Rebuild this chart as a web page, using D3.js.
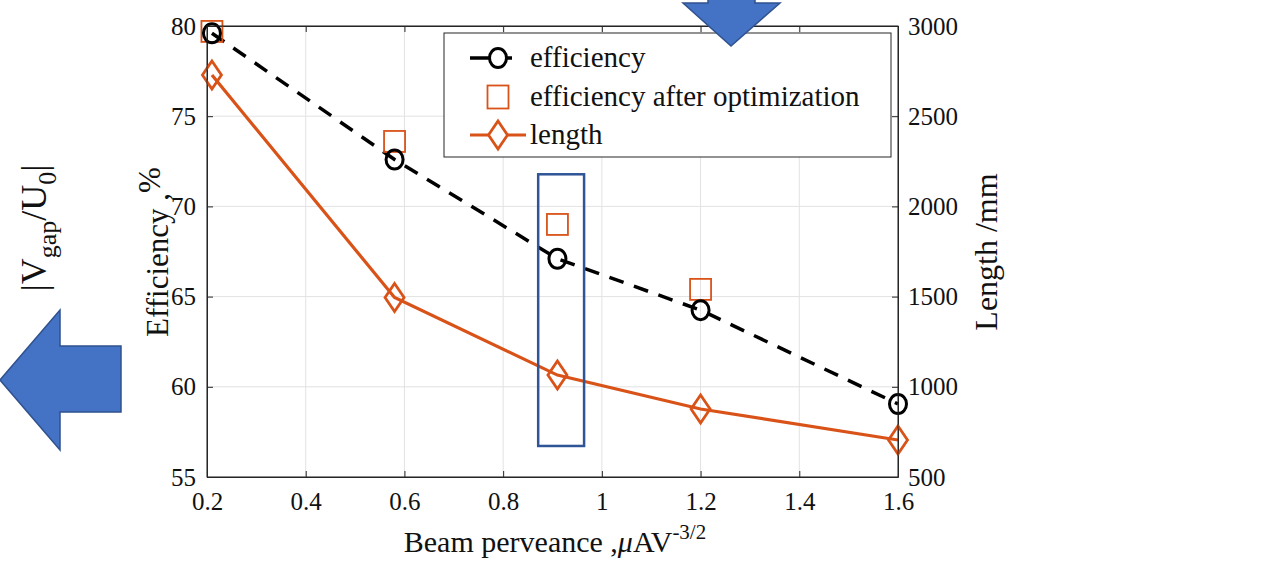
<!DOCTYPE html>
<html>
<head>
<meta charset="utf-8">
<script src="https://cdn.jsdelivr.net/npm/d3@7"></script>
<style>
  body { margin: 0; background: #fff; }
  svg { font-family: "Liberation Serif", "Times New Roman", serif; }
  .grid line { stroke: #e2e2e2; stroke-width: 1; }
  .axis path, .axis line { stroke: #262626; }
  .axis text { fill: #111; font-size: 25px; }
</style>
</head>
<body>
<svg width="1281" height="563"></svg>
<script>
// values
const perveance = [0.21, 0.58, 0.91, 1.2, 1.6];
const efficiency = [79.6, 72.6, 67.1, 64.25, 59.05];
const optPerveance = [0.21, 0.58, 0.91, 1.2];
const efficiencyOpt = [79.7, 73.6, 69.0, 65.4];
const lengthMm = [2728, 1495, 1065, 877, 705];

const xTicks = [0.2, 0.4, 0.6, 0.8, 1, 1.2, 1.4, 1.6];
const effTicks = [55, 60, 65, 70, 75, 80];
const lenTicks = [500, 1000, 1500, 2000, 2500, 3000];

// highlighted box around the 0.91 point: [x0, x1, eff0, eff1]
const highlight = [0.871, 0.964, 56.72, 71.78];

const orange = "#D95319";
const serif = "Liberation Serif, Times New Roman, serif";

const svg = d3.select("svg");
const mLeft = 207, mRight = 898, mTop = 26, mBottom = 477;

const x = d3.scaleLinear().domain([0.2, 1.6]).range([mLeft, mRight]);
const yEff = d3.scaleLinear().domain([55, 80]).range([mBottom, mTop]);
const yLen = d3.scaleLinear().domain([500, 3000]).range([mBottom, mTop]);

// blue arrows (drawing annotations outside the plot)
const arrowFill = "#4472C4", arrowStroke = "#2F528F";
svg.append("polygon")
  .attr("points", "0,380 60,310 60,346 121,346 121,412 60,412 60,450")
  .attr("fill", arrowFill).attr("stroke", arrowStroke).attr("stroke-width", 1.5);

// grid
const grid = svg.append("g").attr("class", "grid");
grid.selectAll(".gx").data(xTicks).enter().append("line")
  .attr("x1", d => x(d)).attr("x2", d => x(d))
  .attr("y1", mTop).attr("y2", mBottom);
grid.selectAll(".gy").data(effTicks).enter().append("line")
  .attr("x1", mLeft).attr("x2", mRight)
  .attr("y1", d => yEff(d)).attr("y2", d => yEff(d));

// axes, ticks inward like matlab
const serifFont = g => g.attr("font-family", serif);
svg.append("g").attr("class", "axis")
  .attr("transform", `translate(0,${mBottom})`)
  .call(d3.axisBottom(x).tickValues(xTicks).tickSizeInner(-6).tickSizeOuter(0).tickPadding(15)
    .tickFormat(d3.format("")))
  .call(serifFont);
svg.append("g").attr("class", "axis")
  .attr("transform", `translate(0,${mTop})`)
  .call(d3.axisTop(x).tickValues(xTicks).tickSizeInner(-6).tickSizeOuter(0).tickFormat(""));
svg.append("g").attr("class", "axis")
  .attr("transform", `translate(${mLeft},0)`)
  .call(d3.axisLeft(yEff).tickValues(effTicks).tickSizeInner(-6).tickSizeOuter(0).tickPadding(11))
  .call(serifFont);
svg.append("g").attr("class", "axis")
  .attr("transform", `translate(${mRight},0)`)
  .call(d3.axisRight(yLen).tickValues(lenTicks).tickSizeInner(-6).tickSizeOuter(0).tickPadding(10)
    .tickFormat(d3.format("d")))
  .call(serifFont);

// efficiency, dashed black
svg.append("path")
  .datum(perveance.map((p, i) => [p, efficiency[i]]))
  .attr("fill", "none").attr("stroke", "#000").attr("stroke-width", 3.5)
  .attr("stroke-dasharray", "15,11")
  .attr("d", d3.line().x(d => x(d[0])).y(d => yEff(d[1])));

// length, solid orange
svg.append("path")
  .datum(perveance.map((p, i) => [p, lengthMm[i]]))
  .attr("fill", "none").attr("stroke", orange).attr("stroke-width", 3.2)
  .attr("d", d3.line().x(d => x(d[0])).y(d => yLen(d[1])));

// markers
const diamond = (cx, cy) => `M${cx},${cy - 14}L${cx + 9.5},${cy}L${cx},${cy + 14}L${cx - 9.5},${cy}Z`;
svg.selectAll(".len").data(perveance).enter().append("path")
  .attr("d", (p, i) => diamond(x(p), yLen(lengthMm[i])))
  .attr("fill", "none").attr("stroke", orange).attr("stroke-width", 2.8);

svg.selectAll(".opt").data(optPerveance).enter().append("rect")
  .attr("x", p => x(p) - 10.5)
  .attr("y", (p, i) => yEff(efficiencyOpt[i]) - 10.5)
  .attr("width", 21).attr("height", 21)
  .attr("fill", "none").attr("stroke", orange).attr("stroke-width", 1.8);

svg.selectAll(".eff").data(perveance).enter().append("ellipse")
  .attr("cx", p => x(p)).attr("cy", (p, i) => yEff(efficiency[i]))
  .attr("rx", 8.5).attr("ry", 9.5)
  .attr("fill", "none").attr("stroke", "#000").attr("stroke-width", 3);

// box outline
svg.append("rect")
  .attr("x", mLeft).attr("y", mTop).attr("width", mRight - mLeft).attr("height", mBottom - mTop)
  .attr("fill", "none").attr("stroke", "#262626").attr("stroke-width", 1);

// highlight rectangle
svg.append("rect")
  .attr("x", x(highlight[0])).attr("y", yEff(highlight[3]))
  .attr("width", x(highlight[1]) - x(highlight[0]))
  .attr("height", yEff(highlight[2]) - yEff(highlight[3]))
  .attr("fill", "none").attr("stroke", "#2F5597").attr("stroke-width", 2.5);

// legend
const lg = svg.append("g");
lg.append("rect").attr("x", 444).attr("y", 33).attr("width", 447).attr("height", 124)
  .attr("fill", "#fff").attr("stroke", "#262626").attr("stroke-width", 1);
const rows = [58, 97, 135];
lg.append("line").attr("x1", 470).attr("x2", 512).attr("y1", rows[0]).attr("y2", rows[0])
  .attr("stroke", "#000").attr("stroke-width", 3.5);
lg.append("ellipse").attr("cx", 498).attr("cy", rows[0]).attr("rx", 8.5).attr("ry", 9.5)
  .attr("fill", "#fff").attr("stroke", "#000").attr("stroke-width", 3);
lg.append("rect").attr("x", 487.5).attr("y", rows[1] - 11.5).attr("width", 21).attr("height", 23)
  .attr("fill", "none").attr("stroke", orange).attr("stroke-width", 1.8);
lg.append("line").attr("x1", 470).attr("x2", 526).attr("y1", rows[2]).attr("y2", rows[2])
  .attr("stroke", orange).attr("stroke-width", 3.2);
lg.append("path").attr("d", diamond(498, rows[2])).attr("fill", "#fff")
  .attr("stroke", orange).attr("stroke-width", 2.8);
const labels = ["efficiency", "efficiency after optimization", "length"];
lg.selectAll(".lt").data(labels).enter().append("text")
  .attr("x", 530).attr("y", (d, i) => rows[i]).attr("dy", "0.32em")
  .attr("font-size", 29).attr("fill", "#111").text(d => d);

// axis titles
const xt = svg.append("text").attr("x", 555).attr("y", 552)
  .attr("text-anchor", "middle").attr("font-size", 30).attr("fill", "#111");
xt.append("tspan").text("Beam perveance ,");
xt.append("tspan").attr("font-style", "italic").text("\u03bc");
xt.append("tspan").text("AV");
xt.append("tspan").attr("font-size", 21).attr("dy", -13).text("-3/2");

const yt = svg.append("text").attr("transform", "translate(168,252) rotate(-90)")
  .attr("text-anchor", "middle").attr("font-size", 31).attr("fill", "#111");
yt.append("tspan").text("Efficiency ,");
yt.append("tspan").attr("dy", -8).text("%");

svg.append("text").attr("transform", "translate(997,252) rotate(-90)")
  .attr("text-anchor", "middle").attr("font-size", 32).attr("fill", "#111")
  .text("Length /mm");

// cropped label at far left
const vl = svg.append("text").attr("transform", "translate(46,228) rotate(-90)")
  .attr("text-anchor", "middle").attr("font-size", 36).attr("fill", "#111");
vl.append("tspan").text("|V");
vl.append("tspan").attr("font-size", 26).attr("dy", 10).text("gap");
vl.append("tspan").attr("dy", -10).text("/U");
vl.append("tspan").attr("font-size", 26).attr("dy", 10).text("0");
vl.append("tspan").attr("dy", -10).text("|");

// arrow at the top, drawn last so it sits over the axes
svg.append("polygon")
  .attr("points", "708,-5 755,-5 755,3 780,3 731,46 683,3 708,3")
  .attr("fill", arrowFill).attr("stroke", arrowStroke).attr("stroke-width", 1.5);
</script>
</body>
</html>
